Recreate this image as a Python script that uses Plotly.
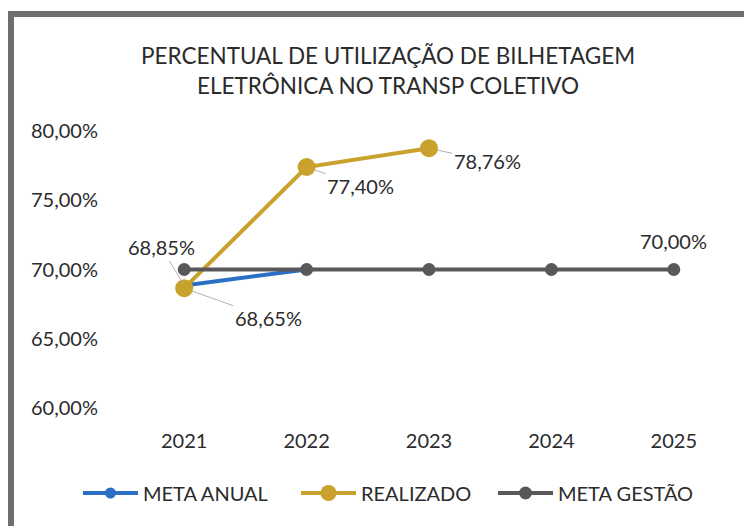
import plotly.graph_objects as go

years = ["2021", "2022", "2023", "2024", "2025"]
meta_anual = [68.85, 70.00]
realizado = [68.65, 77.40, 78.76]
meta_gestao = [70.00, 70.00, 70.00, 70.00, 70.00]
y_ticks = [60, 65, 70, 75, 80]
title_lines = ["PERCENTUAL DE UTILIZAÇÃO DE BILHETAGEM", "ELETRÔNICA NO TRANSP COLETIVO"]

def fmt(v):
    return f"{v:.2f}%".replace(".", ",")

FONT = "Lato"
TXT = "#2b2b2b"
OFF = 8  # page body margin
W, H = 752 - OFF, 526 - OFF
L, T = 123 - OFF, 131 - OFF
PW, PH = 612, 277

def px(xp):  # reference pixel -> paper x
    return (xp - OFF - L) / PW

def py(yp):  # reference pixel -> paper y
    return (T + PH - (yp - OFF)) / PH

fig = go.Figure()
fig.add_trace(go.Scatter(x=years[:len(meta_anual)], y=meta_anual, name="META ANUAL",
                         mode="lines+markers", line=dict(color="#2a6fc4", width=4),
                         marker=dict(size=11, color="#2a6fc4"), legendwidth=148))
fig.add_trace(go.Scatter(x=years[:len(realizado)], y=realizado, name="REALIZADO",
                         mode="lines+markers", line=dict(color="#c9a22e", width=4),
                         marker=dict(size=18, color="#c9a22e"), legendwidth=127))
fig.add_trace(go.Scatter(x=years, y=meta_gestao, name="META GESTÃO",
                         mode="lines+markers", line=dict(color="#58585b", width=4),
                         marker=dict(size=13, color="#58585b"), legendwidth=145))

ann_font = dict(family=FONT, size=20, color=TXT)
annotations = [
    dict(x=0, y=meta_anual[0], text=fmt(meta_anual[0]), showarrow=True, arrowhead=0,
         arrowwidth=1, arrowcolor="#b0b0b0", ax=-23, ay=-38, font=ann_font, standoff=2),
    dict(x=0, y=realizado[0], text=fmt(realizado[0]), showarrow=True, arrowhead=0,
         arrowwidth=1, arrowcolor="#b0b0b0", ax=84, ay=30, font=ann_font, standoff=9),
    dict(x=1, y=realizado[1], text=fmt(realizado[1]), showarrow=True, arrowhead=0,
         arrowwidth=1, arrowcolor="#b0b0b0", ax=54, ay=19, font=ann_font, standoff=9),
    dict(x=2, y=realizado[2], text=fmt(realizado[2]), showarrow=True, arrowhead=0,
         arrowwidth=1, arrowcolor="#b0b0b0", ax=58, ay=13, font=ann_font, standoff=9),
    dict(x=4, y=meta_gestao[4], text=fmt(meta_gestao[4]), showarrow=False,
         xanchor="center", yanchor="middle", yshift=29, font=ann_font),
    dict(x=px(388), y=py(55), xref="paper", yref="paper", text=title_lines[0],
         xanchor="center", yanchor="middle",
         showarrow=False, font=dict(family=FONT, size=22.5, color=TXT)),
    dict(x=px(388), y=py(85), xref="paper", yref="paper", text=title_lines[1],
         xanchor="center", yanchor="middle",
         showarrow=False, font=dict(family=FONT, size=22.5, color=TXT)),
]

fig.update_layout(
    width=W, height=H,
    margin=dict(l=L, r=W - L - PW, t=T, b=H - T - PH),
    paper_bgcolor="white", plot_bgcolor="white",
    font=dict(family=FONT, color=TXT),
    xaxis=dict(type="category", range=[-0.5, 4.5], showgrid=False, zeroline=False, showline=False,
               tickfont=dict(family=FONT, size=20, color=TXT), ticks="", ticklabelstandoff=19),
    yaxis=dict(range=[60, 80], tickvals=y_ticks, ticktext=[fmt(v) for v in y_ticks],
               showgrid=False, zeroline=False, showline=False,
               tickfont=dict(family=FONT, size=20, color=TXT), ticks="", ticklabelstandoff=24),
    legend=dict(orientation="h", x=px(78), xanchor="left",
                y=py(493), yanchor="middle",
                font=dict(family=FONT, size=20, color=TXT), itemwidth=55,
                traceorder="normal"),
    annotations=annotations,
    shapes=[dict(type="rect", xref="paper", yref="paper",
                 x0=px(11), x1=px(790), y0=py(560), y1=py(14),
                 line=dict(color="#6e6e6e", width=6), layer="below")],
)

fig.write_html("out.html")
